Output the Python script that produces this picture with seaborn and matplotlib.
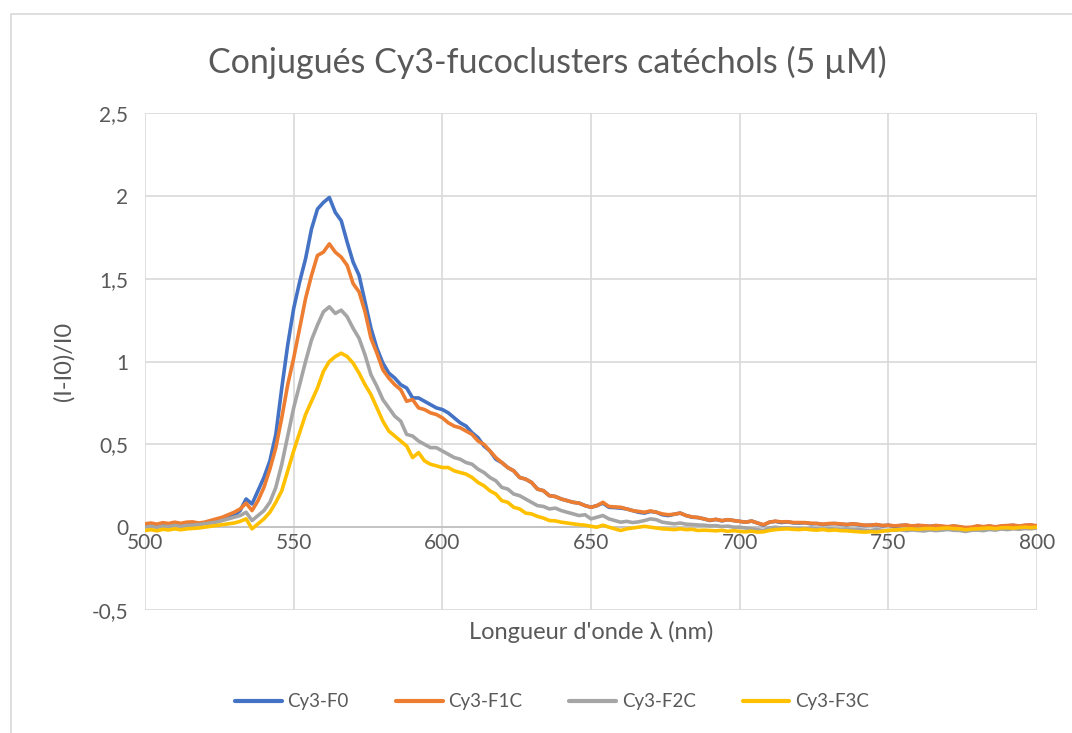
import numpy as np
import pandas as pd
import matplotlib
matplotlib.use("Agg")
import matplotlib.pyplot as plt
from matplotlib.lines import Line2D
from matplotlib.patches import Rectangle
import seaborn as sns

# Wavelength grid (nm), 2 nm steps
wavelength = np.arange(500, 801, 2)

series_names = ["Cy3-F0", "Cy3-F1C", "Cy3-F2C", "Cy3-F3C"]
series_colors = ["#4472C4", "#ED7D31", "#A5A5A5", "#FFC000"]

cy3_f0 = [
    0.015, 0.02, 0.012, 0.022, 0.018, 0.025, 0.018, 0.022, 0.028, 0.02,
    0.025, 0.035, 0.04, 0.05, 0.06, 0.07, 0.10, 0.17, 0.14, 0.22,
    0.30, 0.40, 0.56, 0.84, 1.10, 1.32, 1.48, 1.62, 1.80, 1.92,
    1.96, 1.99, 1.90, 1.85, 1.72, 1.60, 1.52, 1.36, 1.20, 1.08,
    0.99, 0.93, 0.90, 0.86, 0.84, 0.78, 0.78, 0.76, 0.74, 0.72,
    0.71, 0.69, 0.66, 0.63, 0.61, 0.57, 0.54, 0.49, 0.46, 0.41,
    0.39, 0.36, 0.34, 0.30, 0.29, 0.27, 0.23, 0.22, 0.19, 0.185,
    0.17, 0.16, 0.15, 0.145, 0.13, 0.12, 0.13, 0.145, 0.12, 0.118,
    0.115, 0.11, 0.10, 0.09, 0.085, 0.095, 0.09, 0.075, 0.07, 0.078,
    0.085, 0.07, 0.06, 0.058, 0.05, 0.04, 0.047, 0.038, 0.045, 0.04,
    0.035, 0.03, 0.037, 0.025, 0.012, 0.03, 0.035, 0.028, 0.032, 0.026,
    0.025, 0.027, 0.02, 0.022, 0.016, 0.02, 0.022, 0.018, 0.015, 0.02,
    0.015, 0.01, 0.012, 0.015, 0.008, 0.012, 0.005, 0.01, 0.012, 0.004,
    0.01, 0.006, 0.005, 0.009, 0.004, 0.0, 0.006, 0.0, -0.005, -0.004,
    0.005, 0.0, 0.006, -0.001, 0.005, 0.008, 0.011, 0.004, 0.01, 0.012,
    0.005,
]

cy3_f1c = [
    0.02, 0.025, 0.018, 0.027, 0.022, 0.03, 0.023, 0.03, 0.032, 0.025,
    0.03, 0.04, 0.05, 0.06, 0.075, 0.09, 0.11, 0.145, 0.10, 0.16,
    0.24, 0.35, 0.48, 0.66, 0.86, 1.02, 1.20, 1.38, 1.52, 1.64,
    1.66, 1.71, 1.66, 1.63, 1.58, 1.47, 1.42, 1.30, 1.14, 1.05,
    0.95, 0.90, 0.86, 0.83, 0.76, 0.77, 0.72, 0.71, 0.69, 0.68,
    0.66, 0.63, 0.61, 0.60, 0.58, 0.56, 0.52, 0.50, 0.46, 0.42,
    0.39, 0.36, 0.34, 0.30, 0.29, 0.27, 0.23, 0.22, 0.19, 0.185,
    0.17, 0.16, 0.15, 0.145, 0.13, 0.12, 0.13, 0.15, 0.125, 0.122,
    0.12, 0.11, 0.10, 0.095, 0.09, 0.098, 0.09, 0.08, 0.075, 0.078,
    0.085, 0.07, 0.062, 0.058, 0.05, 0.042, 0.047, 0.04, 0.045, 0.04,
    0.035, 0.03, 0.037, 0.025, 0.015, 0.03, 0.036, 0.032, 0.033, 0.028,
    0.028, 0.027, 0.024, 0.022, 0.018, 0.022, 0.022, 0.02, 0.016, 0.02,
    0.017, 0.012, 0.012, 0.016, 0.01, 0.012, 0.008, 0.01, 0.013, 0.007,
    0.011, 0.009, 0.005, 0.01, 0.007, 0.003, 0.008, 0.003, -0.002, 0.0,
    0.008, 0.003, 0.008, 0.002, 0.008, 0.01, 0.012, 0.007, 0.012, 0.014,
    0.008,
]

cy3_f2c = [
    0.0, 0.005, -0.002, 0.006, 0.003, 0.01, 0.004, 0.01, 0.012, 0.015,
    0.02, 0.025, 0.03, 0.04, 0.05, 0.06, 0.07, 0.09, 0.04, 0.07,
    0.10, 0.15, 0.24, 0.38, 0.55, 0.72, 0.86, 1.00, 1.13, 1.22,
    1.30, 1.33, 1.29, 1.31, 1.27, 1.20, 1.14, 1.04, 0.92, 0.85,
    0.77, 0.72, 0.67, 0.64, 0.56, 0.55, 0.52, 0.50, 0.48, 0.48,
    0.46, 0.44, 0.42, 0.41, 0.39, 0.38, 0.35, 0.33, 0.30, 0.28,
    0.24, 0.23, 0.20, 0.19, 0.17, 0.15, 0.13, 0.125, 0.11, 0.115,
    0.10, 0.09, 0.08, 0.07, 0.075, 0.05, 0.06, 0.07, 0.05, 0.04,
    0.03, 0.035, 0.028, 0.032, 0.04, 0.05, 0.045, 0.03, 0.025, 0.02,
    0.025, 0.018, 0.016, 0.013, 0.012, 0.008, 0.009, 0.004, 0.006, 0.0,
    0.0, -0.005, -0.01, -0.015, -0.02, -0.005, 0.0, -0.005, -0.004, -0.009,
    -0.008, -0.011, -0.007, -0.01, -0.013, -0.009, -0.012, -0.015, -0.011, -0.016,
    -0.014, -0.018, -0.02, -0.014, -0.019, -0.02, -0.017, -0.015, -0.021, -0.017,
    -0.02, -0.023, -0.017, -0.021, -0.018, -0.014, -0.019, -0.02, -0.026, -0.019,
    -0.018, -0.021, -0.014, -0.018, -0.011, -0.015, -0.01, -0.013, -0.008, -0.01,
    -0.005,
]

cy3_f3c = [
    -0.02, -0.015, -0.022, -0.013, -0.017, -0.01, -0.016, -0.01, -0.008, -0.005,
    0.0, 0.005, 0.01, 0.015, 0.02, 0.025, 0.035, 0.05, -0.01, 0.02,
    0.05, 0.09, 0.15, 0.22, 0.34, 0.46, 0.57, 0.68, 0.76, 0.84,
    0.94, 1.00, 1.03, 1.05, 1.03, 0.99, 0.93, 0.86, 0.80, 0.72,
    0.64, 0.58, 0.55, 0.52, 0.49, 0.42, 0.45, 0.40, 0.38, 0.37,
    0.36, 0.36, 0.34, 0.33, 0.32, 0.30, 0.27, 0.25, 0.22, 0.20,
    0.16, 0.15, 0.12, 0.11, 0.085, 0.08, 0.065, 0.055, 0.04, 0.038,
    0.03, 0.025, 0.02, 0.015, 0.012, 0.005, 0.0, 0.012, 0.0, -0.01,
    -0.02, -0.01, -0.005, 0.0, 0.005, 0.0, -0.005, -0.01, -0.012, -0.015,
    -0.01, -0.015, -0.013, -0.02, -0.018, -0.02, -0.022, -0.019, -0.025, -0.021,
    -0.025, -0.028, -0.024, -0.03, -0.028, -0.02, -0.015, -0.012, -0.01, -0.013,
    -0.015, -0.011, -0.016, -0.018, -0.014, -0.02, -0.017, -0.021, -0.022, -0.025,
    -0.028, -0.03, -0.027, -0.03, -0.024, -0.02, -0.017, -0.015, -0.011, -0.01,
    -0.013, -0.009, -0.008, -0.011, -0.007, -0.005, -0.009, -0.01, -0.016, -0.011,
    -0.01, -0.007, -0.005, -0.009, -0.004, -0.003, -0.006, -0.002, 0.0, -0.003,
    0.0,
]

x_ticks = [500, 550, 600, 650, 700, 750, 800]
y_ticks = [-0.5, 0, 0.5, 1, 1.5, 2, 2.5]
y_tick_labels = ["-0,5", "0", "0,5", "1", "1,5", "2", "2,5"]

frames = []
for name, values in zip(series_names, [cy3_f0, cy3_f1c, cy3_f2c, cy3_f3c]):
    frames.append(pd.DataFrame({"wavelength": wavelength, "ratio": values, "series": name}))
data = pd.concat(frames, ignore_index=True)

sns.set_theme(style="white")
plt.rcParams["font.family"] = ["Lato", "DejaVu Sans"]

text_color = "#595959"
grid_color = "#D9D9D9"
tick_size = 15

fig = plt.figure(figsize=(10.72, 7.33), dpi=100)
ax = fig.add_axes([145 / 1072, 1 - 610 / 733, 892 / 1072, 497 / 733])

# Light frame around the chart area
fig.patches.append(Rectangle((11 / 1072, -0.1), 1.2, (733 - 14) / 733 + 0.1,
                             transform=fig.transFigure, fill=False,
                             edgecolor="#D9D9D9", linewidth=1.2, zorder=0))

sns.lineplot(data=data, x="wavelength", y="ratio", hue="series",
             hue_order=series_names, palette=series_colors,
             linewidth=2.6, ax=ax, legend=False, sort=True)

ax.set_xlim(500, 800)
ax.set_ylim(-0.5, 2.5)
ax.set_xticks(x_ticks)
ax.set_yticks(y_ticks)
ax.set_yticklabels(y_tick_labels)
ax.tick_params(axis="both", length=0, colors=text_color, labelsize=tick_size)
ax.tick_params(axis="y", pad=12)
ax.set_xticklabels([])

# x tick labels sit just below the zero line
for xv in x_ticks:
    ax.text(xv, -0.035, str(xv), ha="center", va="top", fontsize=tick_size, color=text_color)

ax.grid(True, color=grid_color, linewidth=1.2)
ax.set_axisbelow(True)
for side in ["top", "right", "bottom", "left"]:
    ax.spines[side].set_visible(False)
ax.axhline(0, color="#BFBFBF", linewidth=1.2, zorder=1)

ax.set_xlabel("Longueur d'onde λ (nm)", fontsize=17, color=text_color, labelpad=4)
ax.set_ylabel("(I-I0)/I0", fontsize=17, color=text_color, labelpad=12)

fig.text(547 / 1072, 1 - 62 / 733, "Conjugués Cy3-fucoclusters catéchols (5 µM)",
         ha="center", va="center", fontsize=24.5, color=text_color)

handles = [Line2D([0], [0], color=c, linewidth=3) for c in series_colors]
fig.legend(handles, series_names, loc="center", bbox_to_anchor=(552 / 1072, 1 - 702 / 733),
           ncol=4, frameon=False, fontsize=13.5, handlelength=2.5,
           handletextpad=0.3, columnspacing=2.5, labelcolor=text_color)

fig.savefig("out.png", dpi=100, facecolor="white")
